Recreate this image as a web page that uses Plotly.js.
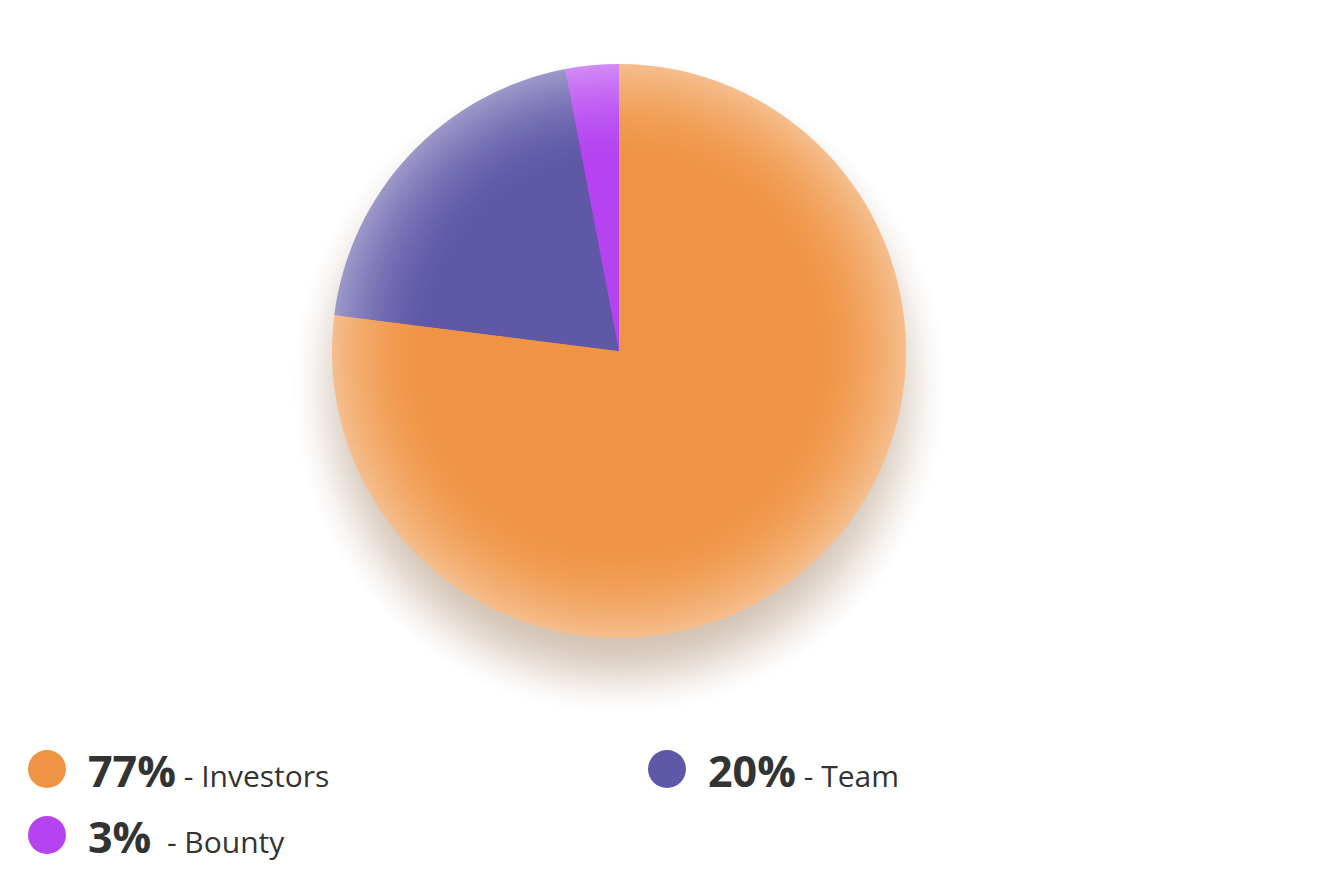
<!DOCTYPE html>
<html>
<head>
<meta charset="utf-8">
<script src="https://cdn.plot.ly/plotly-3.0.1.min.js"></script>
<style>html,body{margin:0;padding:0;background:#fff;}#chart{width:1322px;height:894px;}</style>
</head>
<body>
<div id="chart"></div>
<script>
// ---- data ----
var labels = ['Investors', 'Team', 'Bounty'];
var values = [77, 20, 3];
var colors = ['#EF9444', '#5F58A7', '#B543F0'];

// ---- geometry (pixels) ----
var W = 1322, H = 894;
var CX = 619, CY = 351, R = 287;

function mix(hexA, rgbB, a) {
  var r = parseInt(hexA.substr(1, 2), 16), g = parseInt(hexA.substr(3, 2), 16), b = parseInt(hexA.substr(5, 2), 16);
  r = Math.round(r + (rgbB[0] - r) * a); g = Math.round(g + (rgbB[1] - g) * a); b = Math.round(b + (rgbB[2] - b) * a);
  return 'rgb(' + r + ',' + g + ',' + b + ')';
}
function dom(f) {
  var rr = R * f;
  return { x: [(CX - rr) / W, (CX + rr) / W], y: [1 - (CY + rr) / H, 1 - (CY - rr) / H] };
}

// radial gradient: draw largest (lightest) pie first, smaller darker pies on top
var traces = [];
var steps = 36, inner = 0.66;
for (var k = 0; k <= steps; k++) {
  var f = 1 - (1 - inner) * k / steps;           // radius fraction
  var t = (f - inner) / (1 - inner);              // 1 at edge, 0 at inner
  var a = 0.38 * Math.pow(t, 1.8);
  traces.push({
    type: 'pie',
    labels: labels,
    values: values,
    sort: false,
    direction: 'clockwise',
    rotation: 0,
    textinfo: 'none',
    hoverinfo: 'skip',
    showlegend: false,
    domain: dom(f),
    marker: { colors: colors.map(function (c) { return mix(c, [255, 255, 255], a); }), line: { width: 0 } }
  });
}

// soft shadow behind the pie: opaque concentric circles, white -> beige (blur profile)
var shapes = [];
var sOff = 36, sSteps = 40, sOut = 46, sIn = 40;
var shadowFull = [211, 195, 180];
for (var j = 0; j < sSteps; j++) {
  var u = j / (sSteps - 1);
  var rr = R + sOut - (sOut + sIn) * u;
  var inten = u * u * (3 - 2 * u);
  var cy = CY + sOff;
  shapes.push({
    type: 'circle', xref: 'paper', yref: 'paper', layer: 'below',
    x0: (CX - rr) / W, x1: (CX + rr) / W,
    y0: 1 - (cy + rr) / H, y1: 1 - (cy - rr) / H,
    fillcolor: mix('#ffffff', shadowFull, inten), line: { width: 0 }
  });
}

// custom legend (two columns)
var annotations = [];
var colX = [47, 667], rowY = [769, 835], dotR = 19;
var gap = [' - ', ' - ', '  - '];
for (var i = 0; i < labels.length; i++) {
  var lx = colX[i % 2], ly = rowY[Math.floor(i / 2)];
  shapes.push({
    type: 'circle', xref: 'paper', yref: 'paper',
    x0: (lx - dotR) / W, x1: (lx + dotR) / W,
    y0: 1 - (ly + dotR) / H, y1: 1 - (ly - dotR) / H,
    fillcolor: colors[i], line: { width: 0 }
  });
  annotations.push({
    xref: 'paper', yref: 'paper', x: (lx + 39) / W, y: 1 - (ly + 1) / H,
    xanchor: 'left', yanchor: 'middle', showarrow: false,
    text: '<span style="font-size:43px;font-weight:bold">' + values[i] + '%</span>' +
          '<span style="font-size:30px">' + gap[i] + labels[i] + '</span>',
    font: { family: 'Open Sans, sans-serif', color: '#333333', size: 30 }
  });
}

var layout = {
  width: W, height: H,
  margin: { l: 0, r: 0, t: 0, b: 0 },
  paper_bgcolor: '#ffffff',
  showlegend: false,
  shapes: shapes,
  annotations: annotations
};
Plotly.newPlot('chart', traces, layout, { displayModeBar: false, staticPlot: true });
</script>
</body>
</html>
